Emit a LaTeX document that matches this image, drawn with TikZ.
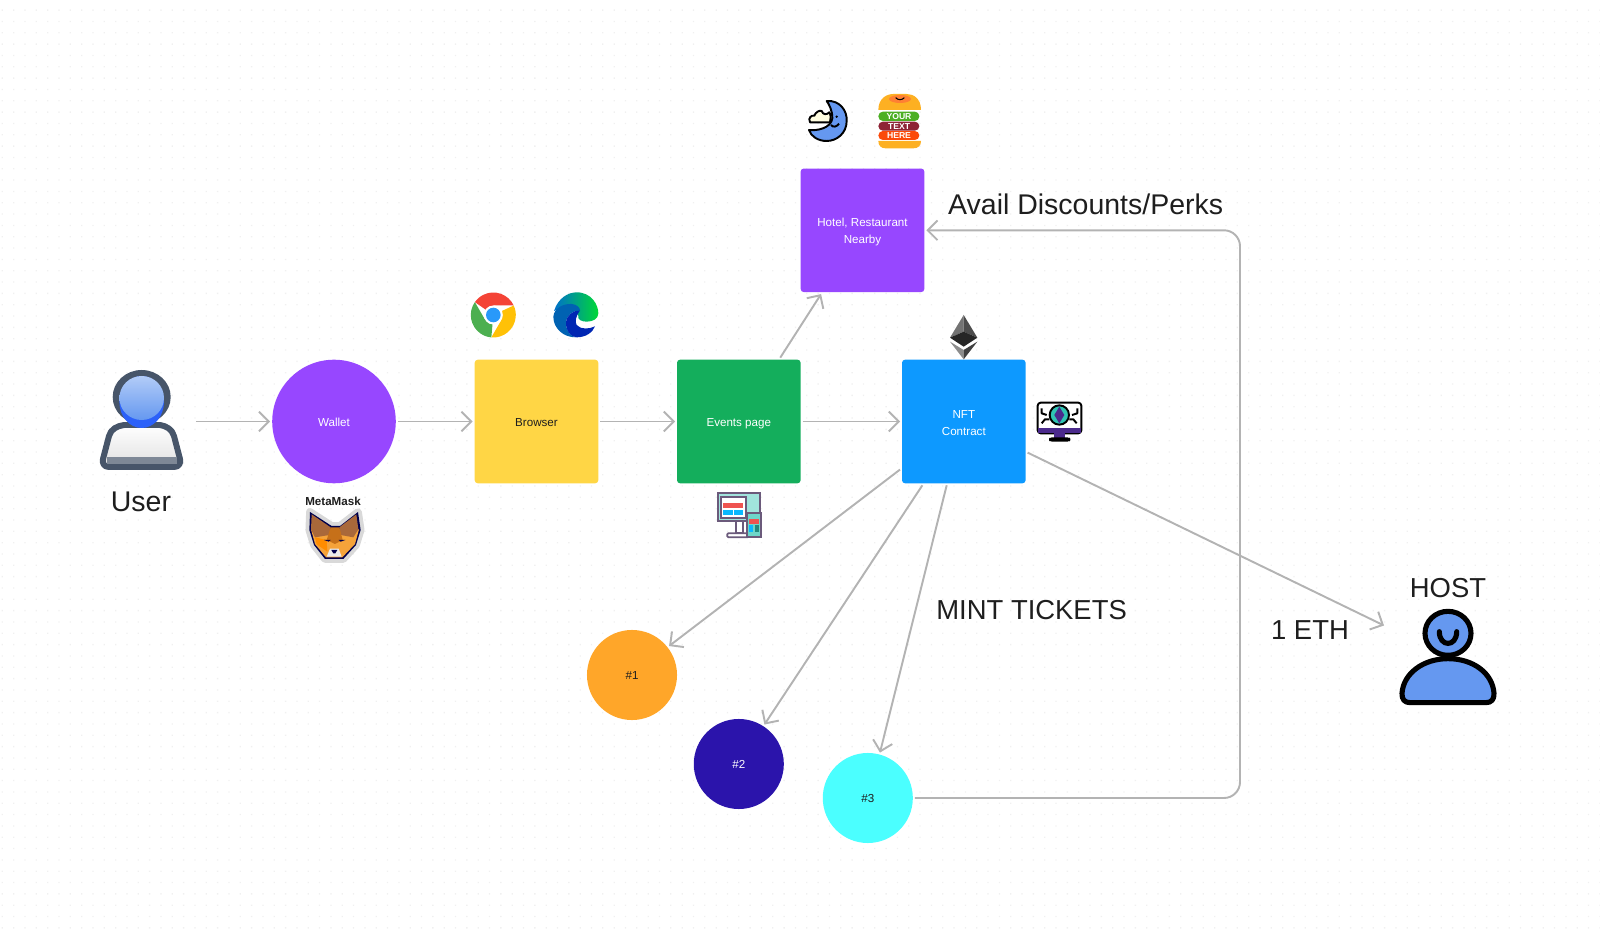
\documentclass[tikz,border=0pt]{standalone}
\usepackage{fontspec}
\setmainfont{Liberation Sans}
\usetikzlibrary{arrows.meta}
\definecolor{inkc}{HTML}{1E1E1E}
\definecolor{linec}{HTML}{B3B3B3}
\definecolor{dotc}{HTML}{F0F0F0}
\definecolor{purplec}{HTML}{9747FF}
\definecolor{yellowc}{HTML}{FFD645}
\definecolor{greenc}{HTML}{14AE5C}
\definecolor{bluec}{HTML}{0D99FF}
\definecolor{orangec}{HTML}{FFA629}
\definecolor{navyc}{HTML}{2B14AB}
\definecolor{cyanc}{HTML}{4BFFFF}
\definecolor{slatec}{HTML}{475569}
\definecolor{skyc}{HTML}{6598F0}
\definecolor{bunc}{HTML}{FDB022}
\definecolor{foxc}{HTML}{F5A33A}
\definecolor{earc}{HTML}{A9683A}
\definecolor{tealc}{HTML}{2FC4B2}
\definecolor{plumc}{HTML}{4B2A8C}
\definecolor{framec}{HTML}{6B5A7B}
\definecolor{redc}{HTML}{EF5350}
\begin{document}
\begin{tikzpicture}
  [
    x=0.01cm,y=0.01cm,
    small/.style={font=\fontsize{3.3pt}{4.8pt}\selectfont,align=center},
    big/.style={font=\fontsize{8.1pt}{10pt}\selectfont,text=inkc},
    caps/.style={font=\fontsize{7.8pt}{10pt}\selectfont,text=inkc},
    square/.style={rectangle,rounded corners=0.03cm,minimum size=1.235cm,inner sep=0pt,outer sep=0.02cm,small,text=white},
    disc/.style={circle,minimum size=1.235cm,inner sep=0pt,outer sep=0.02cm,small,text=white},
    ticket/.style={circle,minimum size=0.9cm,inner sep=0pt,outer sep=0.02cm,small},
    oneline/.style={text height=2.7pt,text depth=0pt},
    conn/.style={draw=linec,line width=0.55pt,-{Straight Barb[length=2.8pt,width=5.6pt]}},
    crop/.style 2 args={shift={(#1,933-#2)},xscale=1/3,yscale=-1/3},
    ink/.style={draw=black,line width=0.55pt,line join=round},
    frame/.style={draw=framec,line width=0.5pt}
  ]
  \useasboundingbox (0,0) rectangle (1600,933);
  % dots
  \foreach \y in {922.2,910.87,...,0} {
    \fill[dotc] \foreach \x in {1.7,13.03,...,1600} { (\x,\y) rectangle ++(1.3,1.3) };
  }
  % blocks
  \node [disc,oneline,fill=purplec] (wallet) at (334,511.5) {Wallet};
  \node [square,oneline,fill=yellowc,text=inkc] (browser) at (536.5,511.5) {Browser};
  \node [square,oneline,fill=greenc] (events) at (738.8,511.5) {Events page};
  \node [square,fill=bluec] (nft) at (963.8,511.5) {\rule{0pt}{3pt}NFT\\Contract};
  \node [square,fill=purplec] (hotel) at (862.5,702.7) {\rule{0pt}{3.4pt}Hotel, Restaurant\\Nearby};
  \foreach \n/\x/\y/\c/\t in {1/632/258/orangec/inkc,2/738.8/169/navyc/white,3/867.8/135/cyanc/inkc} {
    \node [ticket,text height=2.3pt,text depth=0pt,fill=\c,text=\t] (ticket\n) at (\x,\y) {\#\n};
  }
  % labels
  \node [big] (userlabel) at (141,431) {User};
  \node [small,font=\fontsize{3.3pt}{4.8pt}\selectfont\bfseries,text=inkc] (metamask) at (333,431.7) {MetaMask};
  \node [big] (perks) at (1085.7,729) {Avail Discounts/Perks};
  \node [caps] (mint) at (1031.6,323) {MINT TICKETS};
  \node [caps] (eth) at (1310,303.4) {1 ETH};
  \node [caps] (hostlabel) at (1448,345) {HOST};
  % ends of edges
  \node [minimum width=1.07cm,inner sep=0pt] (user) at (141.7,511.5) {};
  \coordinate (hostin) at (1384,307.5);
  \coordinate (turn) at (1240,702.7);
  % edges
  \draw [conn] (user) -- (wallet);
  \draw [conn] (wallet) -- (browser);
  \draw [conn] (browser) -- (events);
  \draw [conn] (events) -- (nft);
  \draw [conn] (events.57) -- (hotel.237.5);
  \draw [conn] (nft.217.6) -- (ticket1.38);
  \draw [conn] (nft.237) -- (ticket2.57);
  \draw [conn] (nft.255) -- (ticket3.75);
  \draw [conn] (nft.-26) -- (hostin);
  \draw [conn,rounded corners=0.16cm] (ticket3) -| (turn) -- (hotel);
  % user
  \draw [line width=1.7pt,draw=slatec,top color=white,bottom color=black!12,line join=round]
  (109,466) .. controls (104,466) and (102,470) .. (103,474) -- (109,497)
  .. controls (111,504) and (117,507) .. (124,508) -- (160,508)
  .. controls (166,507) and (172,504) .. (174,497) -- (180,474)
  .. controls (181,470) and (179,466) .. (174,466) -- cycle;
  \fill [color=slatec!70] (106.5,469) rectangle (177,476);
  \fill [slatec] (141.7,536) ellipse (29 and 27);
  \fill [bluec!40!blue!60!skyc] (141.7,531) ellipse (22.3 and 26);
  \shade [top color=skyc!50!white,bottom color=skyc] (141.7,535) ellipse (22.3 and 22);
  % metamask
  \begin{scope}[crop={300}{490}]
    \draw [draw=black!15,line width=2.2pt,line join=round,fill=white]
    (30,66) -- (95,108) -- (120,108) -- (174,66) -- (182,120) -- (168,165) -- (130,207) -- (75,207) -- (42,165) -- (28,120) -- cycle;
    \fill [black!70!blue]
    (30,66) -- (95,108) -- (120,108) -- (174,66) -- (182,120) -- (168,165) -- (130,207) -- (75,207) -- (42,165) -- (28,120) -- cycle;
    \fill [foxc] (33,118) -- (177,118) -- (165,162) -- (127,202) -- (78,202) -- (45,162) -- cycle;
    \fill [earc] (35,73) -- (92,112) -- (88,135) -- (45,142) -- (33,118) -- cycle;
    \fill [earc] (169,73) -- (118,112) -- (122,135) -- (160,142) -- (175,118) -- cycle;
    \fill [orange!75!black!90!white] (92,112) -- (118,112) -- (128,150) -- (105,162) -- (80,150) -- cycle;
    \fill [orange!90!yellow] (45,142) -- (80,150) -- (82,185) -- (50,163) -- cycle;
    \fill [black!70!blue] (72,150) -- (92,150) -- (86,155) -- cycle;
    \fill [black!70!blue] (136,150) -- (116,150) -- (122,155) -- cycle;
    \fill [black!8] (80,200) -- (125,200) -- (116,176) -- (90,176) -- cycle;
    \fill [black!70!blue] (94,180) -- (112,180) -- (106,190) -- (100,190) -- cycle;
  \end{scope}
  % chrome
  \begin{scope}[shift={(493.3,618)}]
    \foreach \a/\c in {0/F44336,120/4CAF50,240/FFC107} {
      \definecolor{sector}{HTML}{\c}
      \fill [rotate=\a,sector] (0,0) -- (90:9.5) -- (25:22.5) arc (25:145:22.5) -- cycle;
    }
    \fill [white] (0,0) circle (9.5);
    \fill [bluec!70!skyc] (0,0) circle (7.3);
  \end{scope}
  % edge
  \begin{scope}[crop={460}{285}]
    \shade [left color=cyan!55!blue!80!black,right color=green!75!cyan!85!black]
    (282,78) .. controls (295,38) and (325,22) .. (350,22) .. controls (395,22) and (415,60) .. (415,85)
    .. controls (415,102) and (398,110) .. (380,110) .. controls (365,110) and (352,104) .. (355,92) -- (330,60) -- cycle;
    \fill [blue!45!cyan!70!black]
    (280,95) .. controls (282,70) and (310,55) .. (335,57) .. controls (350,58) and (360,68) .. (360,76)
    .. controls (340,76) and (318,90) .. (318,115) .. controls (318,140) and (335,155) .. (347,157)
    .. controls (310,157) and (280,130) .. (280,95) -- cycle;
    \fill [blue!65!black!85!cyan]
    (360,76) .. controls (340,76) and (318,90) .. (318,115) .. controls (318,140) and (335,157) .. (350,157)
    .. controls (378,157) and (398,142) .. (405,124) .. controls (390,132) and (362,135) .. (350,120)
    .. controls (344,110) and (348,92) .. (360,76) -- cycle;
  \end{scope}
  % moon
  \begin{scope}[crop={795}{85}]
    \draw [ink,fill=skyc]
    (95,48) .. controls (135,45) and (157,78) .. (155,108) .. controls (155,145) and (125,168) .. (95,168)
    .. controls (70,168) and (48,155) .. (42,135) .. controls (65,138) and (108,130) .. (112,100)
    .. controls (112,75) and (102,58) .. (95,48) -- cycle;
    \draw [ink,fill=yellow!12!white]
    (45,112) .. controls (38,98) and (50,90) .. (58,92) .. controls (62,82) and (72,75) .. (80,78)
    .. controls (84,90) and (95,90) .. (103,82) .. controls (108,90) and (108,102) .. (105,112) -- cycle;
    \fill (125,95) circle (4);
    \draw [ink] (108,120) .. controls (114,128) and (125,126) .. (132,116);
  \end{scope}
  % burger
  \begin{scope}[crop={795}{85}]
    \fill [bunc] (250,75) .. controls (250,40) and (275,27) .. (295,27) -- (335,27)
    .. controls (355,27) and (378,40) .. (378,75) -- cycle;
    \fill [orange!75!red!80!white] (315,42) ellipse (33 and 12);
    \draw [line width=0.3pt] (302,38) .. controls (308,46) and (322,46) .. (328,38);
    \foreach \a/\b/\c in {80/108/4CAF24,110/137/8E2436,138/165/FB4A0A} {
      \definecolor{layer}{HTML}{\c}
      \fill [layer,rounded corners=0.045cm] (250,\a) rectangle (373,\b);
    }
    \fill [bunc] (250,168) -- (378,168) .. controls (378,182) and (370,190) .. (355,190)
    -- (272,190) .. controls (258,190) and (250,182) .. (250,168) -- cycle;
    \foreach \n/\v/\t in {1/94/YOUR,2/123.5/TEXT,3/151.5/HERE} {
      \node [font=\fontsize{2.45pt}{3pt}\selectfont\bfseries,text=white,inner sep=0pt] (burger\n) at (312,\v) {\t};
    }
  \end{scope}
  % ether
  \begin{scope}[crop={680}{300}]
    \fill [black!55] (851,45) -- (810,113) -- (851,95) -- cycle;
    \fill [black!70] (851,45) -- (892,113) -- (851,95) -- cycle;
    \fill [black!85] (810,113) -- (851,95) -- (892,113) -- (851,140) -- cycle;
    \fill [black!45] (810,125) -- (851,150) -- (851,178) -- cycle;
    \fill [black!75] (892,125) -- (851,150) -- (851,178) -- cycle;
  \end{scope}
  % nft monitor
  \begin{scope}[crop={680}{300}]
    \draw [ink,fill=white,rounded corners=0.03cm] (1073,308) rectangle (1204,400);
    \fill [plumc] (1075,385) rectangle (1202,398);
    \fill [plumc] (1122,400) rectangle (1154,415);
    \draw [ink,fill=plumc,rounded corners=0.02cm] (1110,415) rectangle (1168,422);
    \draw [ink,fill=tealc] (1138,345) circle (29);
    \fill [plumc] (1138,320) -- (1153,345) -- (1138,370) -- (1123,345) -- cycle;
    \draw [ink] (1085,325) -- (1085,340) -- (1100,345) (1085,370) -- (1095,358) -- (1108,358)
    (1192,325) -- (1192,340) -- (1176,345) (1190,370) -- (1180,358) -- (1168,358);
  \end{scope}
  % events monitor
  \begin{scope}[crop={680}{300}]
    \draw [frame,fill=tealc!45!white] (113,578) rectangle (241,664);
    \draw [frame,fill=white] (168,664) rectangle (190,700);
    \draw [frame,fill=white,rounded corners=0.01cm] (142,700) rectangle (205,712);
    \draw [frame,fill=white] (124,590) rectangle (197,655);
    \fill [redc] (130,610) rectangle (188,625);
    \fill [bluec!70!cyan] (130,630) rectangle (158,645);
    \fill [bluec!70!cyan] (163,630) rectangle (188,645);
    \draw [frame,fill=tealc!70!white] (201,640) rectangle (242,712);
    \fill [redc] (206,657) rectangle (237,671);
    \fill [bluec!70!cyan] (206,676) rectangle (220,695);
    \fill [tealc!70!black] (224,676) rectangle (237,695);
  \end{scope}
  % host
  \begin{scope}[crop={1240}{560}]
    \draw [line width=1.45pt,fill=skyc,line join=round]
    (510,428) .. controls (494,428) and (485,418) .. (486,400) .. controls (490,340) and (550,296) .. (624,296)
    .. controls (700,296) and (758,340) .. (762,400) .. controls (763,418) and (754,428) .. (738,428) -- cycle;
    \draw [line width=1.45pt,fill=skyc] (624,220) ellipse (69 and 66);
    \draw [line width=1.45pt,line cap=round] (598,215) .. controls (598,262) and (650,262) .. (650,215);
  \end{scope}
\end{tikzpicture}
\end{document}
